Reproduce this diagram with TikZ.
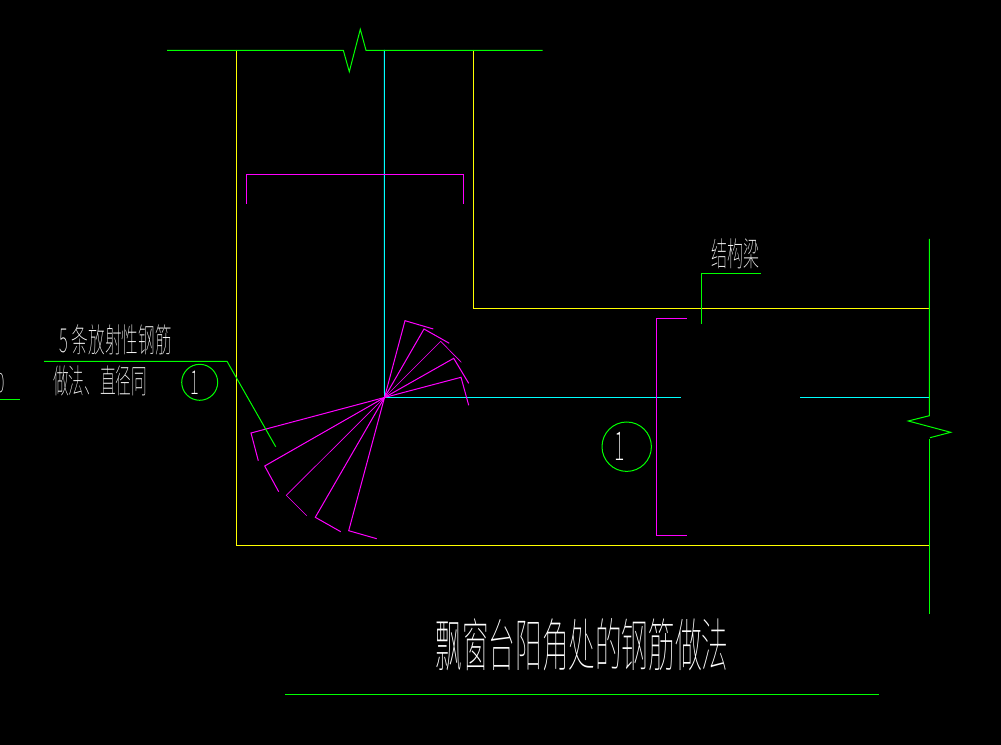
\documentclass[tikz,border=0pt]{standalone}
\usepackage{fontspec}
\newfontfamily\cadfont{Noto Sans CJK SC Thin}
\newcommand{\cadtext}[3]{\scalebox{#2}[1]{\fontsize{#1}{#1}\cadfont #3}}
\definecolor{cadyellow}{RGB}{255,255,0}
\definecolor{cadcyan}{RGB}{0,255,255}
\definecolor{cadmagenta}{RGB}{255,0,255}
\definecolor{cadgreen}{RGB}{0,255,0}
\begin{document}
\begin{tikzpicture}[%
  x=.75pt,y=-.75pt,
  line width=.75pt,
  wall/.style={draw=cadyellow},
  axis/.style={draw=cadcyan},
  rebar/.style={draw=cadmagenta},
  thinbar/.style={draw=cadmagenta,line width=.5pt},
  leader/.style={draw=cadgreen},
  tag/.style={draw=cadgreen,circle,inner sep=0pt,text=white},
  cadlabel/.style={text=white,inner sep=0pt}]
\fill[black] (0,0) rectangle (1001,745);
\clip (0,0) rectangle (1001,745);
\coordinate (hub) at (384.5,397.5);
% walls
\draw[wall] (236.5,50) -- (236.5,545.3) -- (929.5,545.3);
\draw[wall,line width=.6pt] (473.3,50) -- (473.3,308.5) -- (929.5,308.5);
% axes
\draw[axis] (384.3,50) -- (hub);
\draw[axis,line width=.5pt] (hub) -- (681,397.5);
\draw[axis,line width=.5pt] (800,397.5) -- (929.5,397.5);
% break lines
\draw[leader] (167,50.3) -- (343.3,50.3) -- (349.3,71.7) -- (360.3,29.3) -- (366,50.3) -- (542.7,50.3);
\draw[leader] (929.4,239) -- (929.4,415.7) -- (908.3,421) -- (950.7,432.3) -- (930,437.7);
\draw[leader] (929.4,439) -- (929.4,614);
% bars
\draw[rebar] (246.3,203.7) -- (246.3,174.3) -- (463.3,174.3) -- (463.3,203.7);
\draw[rebar] (686.7,318.3) -- (656.3,318.3) -- (656.3,535.3) -- (686.7,535.3);
\foreach \tipx/\tipy/\hookx/\hooky in {405/320.7/433.3/329,424/329/449.3/343.3,453.7/358.3/468.7/383.3,461/377.3/468.7/405.3,
    251/433/258.3/460.7,264.7/466/278.7/491.7,315.3/517.3/340.7/531.7,348.7/530.7/376.7/538.7}
  \draw[rebar] (hub) -- (\tipx,\tipy) -- (\hookx,\hooky);
\draw[thinbar] (hub) -- (440.7,341.3) -- (461.3,362.3);
\draw[thinbar] (hub) -- (286.3,495.3) -- (306.7,515.7);
% leaders
\draw[leader] (44,361.3) -- (227,361.3) -- (275.7,446.7);
\draw[leader] (760.7,273.3) -- (701.3,273.3) -- (701.3,324);
\draw[leader] (0,400) -- (19.7,400);
\draw[leader] (285,694.3) -- (879,694.3);
% tags
\node[tag,minimum size=36pt*.75] (tagleft) at (199.7,382.3) {\cadtext{25pt}{.5}{1}\kern8pt};
\node[tag,minimum size=49.4pt*.75] (tagright) at (626.7,446.7) {\cadtext{30pt}{.5}{1}\kern10pt};
% labels
\node[cadlabel,anchor=center] (edgezero) at (1,383) {\cadtext{20pt}{.6}{0}};
\node[cadlabel] (fiveradial) at (115.5,340) {\cadtext{25pt}{.5}{5 条放射性钢筋}};
\node[cadlabel] (samesize) at (100,381) {\cadtext{25pt}{.47}{做法、直径同}};
\node[cadlabel] (beamname) at (735.5,254) {\cadtext{25pt}{.48}{结构梁}};
\node[cadlabel] (title) at (582,645) {\cadtext{43pt}{.465}{飘窗台阳角处的钢筋做法}};
\end{tikzpicture}
\end{document}
